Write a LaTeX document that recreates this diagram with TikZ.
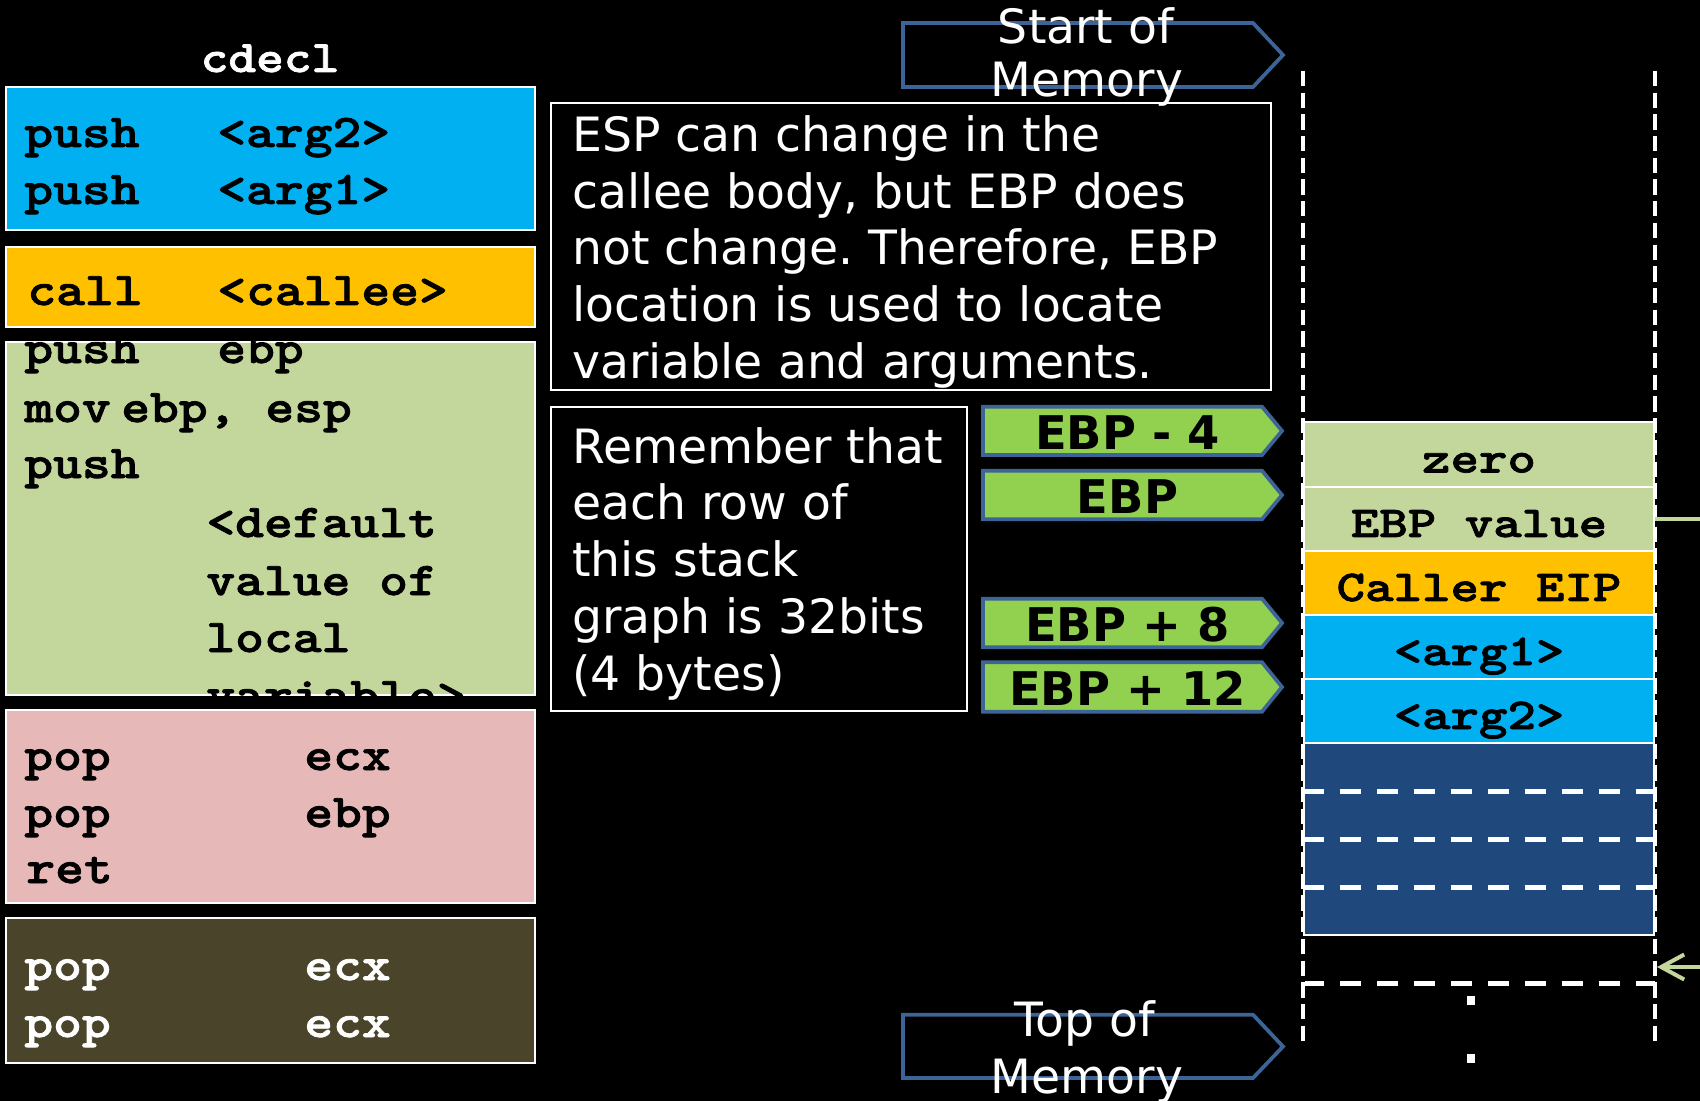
\documentclass[tikz,border=0pt]{standalone}
\usepackage{fontspec}
\usetikzlibrary{arrows.meta}
\newfontfamily\codefont{lmmonolt10-bold.otf}[FakeStretch=1.17, FakeBold=1.6]
\newfontfamily\stackfont{lmmonolt10-bold.otf}[FakeStretch=1.23, FakeBold=1.6]
\newfontfamily\notefont{DejaVu Sans}
\definecolor{argblue}{HTML}{00B0F0}
\definecolor{callorange}{HTML}{FFC000}
\definecolor{framegreen}{HTML}{C3D69B}
\definecolor{epipink}{HTML}{E6B9B8}
\definecolor{cleanolive}{HTML}{4A452A}
\definecolor{freeblue}{HTML}{1F497D}
\definecolor{tagedge}{HTML}{3C6496}
\definecolor{taggreen}{HTML}{92D050}
\definecolor{linkgreen}{HTML}{C3D69B}
\frenchspacing
\begin{document}
\begin{tikzpicture}[x=0.02cm,y=-0.02cm,
  codebox/.style={draw=white, line width=0.04cm, inner sep=0pt, minimum width=10.59cm},
  code/.style={font=\codefont\fontsize{26.7}{30}\selectfont, inner sep=0pt, anchor=base west},
  note/.style={draw=white, line width=0.045cm, inner sep=0pt},
  notetext/.style={font=\notefont\fontsize{26.9}{32}\selectfont, text=white, inner sep=0pt, anchor=base west},
  marker/.style={draw=tagedge, line width=0.075cm, line join=miter},
  markertext/.style={font=\notefont\fontsize{26.9}{32}\selectfont, text=white, inner sep=0pt, anchor=base},
  tag/.style={font=\notefont\bfseries\fontsize{26.4}{32}\selectfont, inner sep=0pt, anchor=base},
  cell/.style={draw=white, line width=0.05cm, minimum width=7cm, inner sep=0pt,
    text height=0.72cm, text depth=0cm, font=\stackfont\fontsize{25.1}{30}\selectfont},
  rail/.style={white, line width=0.09cm, dash pattern=on 0.306cm off 0.128cm},
  slot/.style={white, line width=0.1cm, dash pattern=on 0.42cm off 0.32cm, dash phase=0.04cm},
  link/.style={linkgreen, line width=0.08cm}]

% canvas
\fill[black] (0,0) rectangle (1700,1101);
\useasboundingbox (0,0) rectangle (1700,1101);

% ---- cdecl code listing ----
\node[code, font=\codefont\fontsize{25.7}{30}\selectfont, text=white, anchor=base] (title) at (270,72) {cdecl};

\node[codebox, fill=argblue, minimum height=2.86cm] (pushargs) at (270.75,158.5) {};
\node[code] (pa1) at (24,147) {\makebox[3.86cm][l]{push}<arg2>};
\node[code] (pa2) at (24,204) {\makebox[3.86cm][l]{push}<arg1>};

\node[codebox, fill=callorange, minimum height=1.6cm] (callbox) at (270.75,287) {};
\node[code] (cl1) at (27,305) {\makebox[3.8cm][l]{call}<callee>};

\node[codebox, fill=framegreen, minimum height=7.06cm] (prologue) at (270.75,518.5) {};
\begin{scope}
  \clip (6,342) rectangle (535,695);
  \node[code] (pr1) at (24,363) {\makebox[3.86cm][l]{push}ebp};
  \node[code] (pr2) at (24,422) {\makebox[1.94cm][l]{mov}ebp, esp};
  \node[code] (pr3) at (24,478) {push};
  \node[code] (pr4) at (206,537) {<default};
  \node[code] (pr5) at (206,595) {value of};
  \node[code] (pr6) at (206,652) {local};
  \node[code] (pr7) at (206,710) {variable>};
\end{scope}

\node[codebox, fill=epipink, minimum height=3.86cm] (epilogue) at (270.75,806.5) {};
\node[code] (ep1) at (24,770) {\makebox[5.6cm][l]{pop}ecx};
\node[code] (ep2) at (24,827) {\makebox[5.6cm][l]{pop}ebp};
\node[code] (ep3) at (26,883) {ret};

\node[codebox, fill=cleanolive, minimum height=2.9cm] (cleanup) at (270.75,990.5) {};
\node[code, text=white] (cu1) at (24,980) {\makebox[5.6cm][l]{pop}ecx};
\node[code, text=white] (cu2) at (24,1037) {\makebox[5.6cm][l]{pop}ecx};

% ---- explanatory notes ----
\node[note, minimum width=14.4cm, minimum height=5.74cm] (espnote) at (911,246.5) {};
\foreach \t [count=\i] in {{ESP can change in the},{callee body, but EBP does},{not change. Therefore, EBP},{location is used to locate},{variable and arguments.}}
  \node[notetext] (espline\i) at (572,{152+56.5*(\i-1)}) {\t};

\node[note, minimum width=8.32cm, minimum height=6.08cm] (rownote) at (759,559) {};
\foreach \t [count=\i] in {{Remember that},{each row of},{this stack},{graph is 32bits},{(4 bytes)}}
  \node[notetext] (rowline\i) at (572,{463+56.75*(\i-1)}) {\t};

% ---- memory direction markers ----
\draw[marker] (903,23) -- (1253,23) -- (1283,55) -- (1253,87) -- (903,87) -- cycle;
\node[markertext] (startmemA) at (1086,44) {Start of};
\node[markertext] (startmemB) at (1087,97) {Memory};

\draw[marker] (903,1014.7) -- (1253,1014.7) -- (1283,1046.5) -- (1253,1078) -- (903,1078) -- cycle;
\node[markertext] (topmemA) at (1085,1036) {Top of};
\node[markertext] (topmemB) at (1087,1093) {Memory};

% ---- EBP offset tags ----
\foreach \tp/\bt/\lbl/\nm in {406.7/455/EBP - 4/ebpminus, 470.7/519.3/EBP/ebpzero, 598.7/647.3/EBP + 8/ebpeight, 662.3/711.7/EBP + 12/ebptwelve} {
  \draw[marker, fill=taggreen] (983,\tp) -- (1262,\tp) -- (1282,{(\tp+\bt)/2}) -- (1262,\bt) -- (983,\bt) -- cycle;
  \node[tag] (\nm) at (1127.5,{\bt-5.8}) {\lbl};
}

% ---- stack ----
\draw[rail] (1303,71) -- (1303,1046);
\draw[rail] (1655,71) -- (1655,1046);

\node[cell, fill=framegreen, minimum height=1.3cm] (zero) at (1479,454.5) {zero};
\node[cell, fill=framegreen, minimum height=1.28cm] (ebpv) at (1479,519) {EBP value};
\node[cell, fill=callorange, minimum height=1.28cm] (eip) at (1479,583) {Caller EIP};
\node[cell, fill=argblue, minimum height=1.28cm] (argone) at (1479,647) {<arg1>};
\node[cell, fill=argblue, minimum height=1.28cm] (argtwo) at (1479,711) {<arg2>};
\node[cell, fill=freeblue, minimum height=3.84cm] (free) at (1479,839) {};
\draw[slot] (1305,791) -- (1653,791);
\draw[slot] (1305,839) -- (1653,839);
\draw[slot] (1305,887) -- (1653,887);
\draw[slot] (1305,983) -- (1655,983);

\fill[white] (1467,996) rectangle (1475,1005);
\fill[white] (1467,1054) rectangle (1475,1063);

% ---- pointers into the stack ----
\coordinate (ebpout) at (1700,519);
\draw[link] (ebpv.east) -- (ebpout);
\coordinate (espin) at (1700,967);
\coordinate (esp) at (1657,967);
\draw[link, -{Straight Barb[length=0.46cm,width=0.5cm]}] (espin) -- (esp);
\end{tikzpicture}
\end{document}
